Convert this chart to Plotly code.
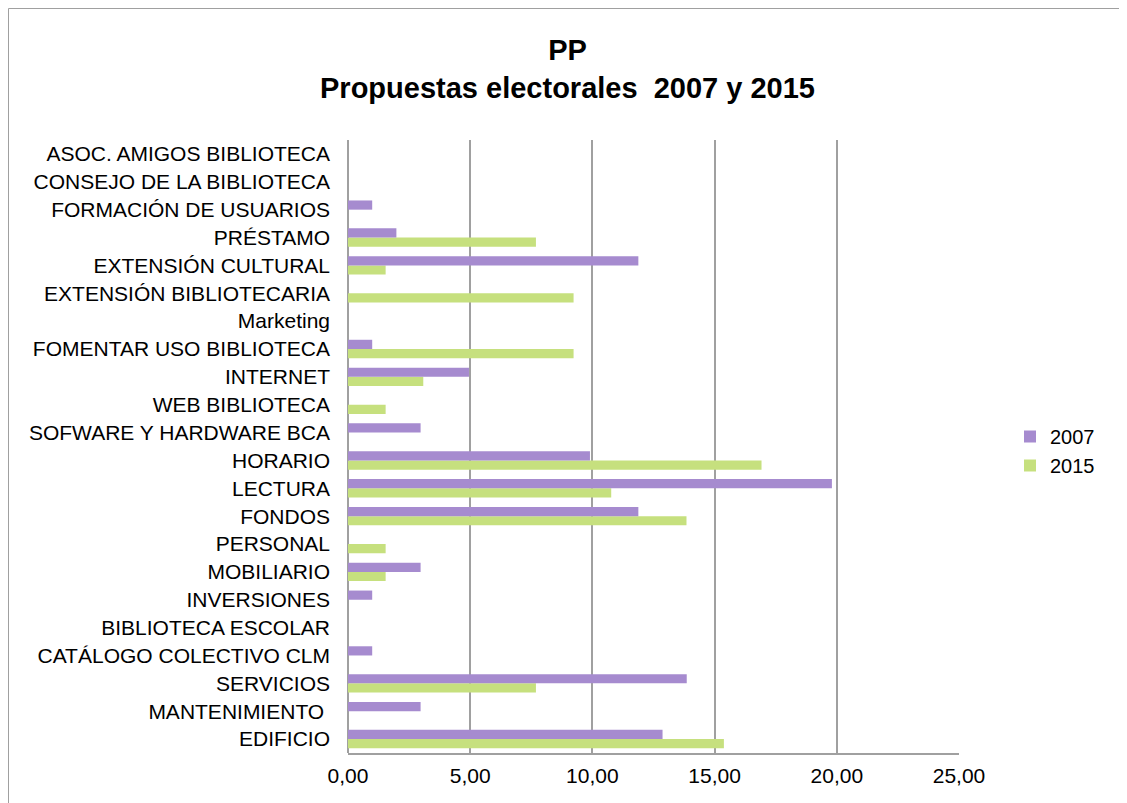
import plotly.graph_objects as go

categories = [
    "ASOC. AMIGOS BIBLIOTECA", "CONSEJO DE LA BIBLIOTECA", "FORMACIÓN DE USUARIOS",
    "PRÉSTAMO", "EXTENSIÓN CULTURAL", "EXTENSIÓN BIBLIOTECARIA", "Marketing",
    "FOMENTAR USO BIBLIOTECA", "INTERNET", "WEB BIBLIOTECA", "SOFWARE Y HARDWARE BCA",
    "HORARIO", "LECTURA", "FONDOS", "PERSONAL", "MOBILIARIO", "INVERSIONES",
    "BIBLIOTECA ESCOLAR", "CATÁLOGO COLECTIVO CLM", "SERVICIOS", "MANTENIMIENTO ",
    "EDIFICIO",
]
v2007 = [0, 0, 0.99, 1.98, 11.88, 0, 0, 0.99, 4.95, 0, 2.97, 9.90, 19.80, 11.88,
         0, 2.97, 0.99, 0, 0.99, 13.86, 2.97, 12.87]
v2015 = [0, 0, 0, 7.69, 1.54, 9.23, 0, 9.23, 3.08, 1.54, 0, 16.92, 10.77, 13.85,
         1.54, 1.54, 0, 0, 0, 7.69, 0, 15.38]
x_ticks = [0, 5, 10, 15, 20, 25]

# page body has an 8px margin; work in figure coordinates
OFF = 8
W, H = 1127 - OFF, 803 - OFF
L, R, T, B = 348 - OFF, 959 - OFF, 140 - OFF, 753 - OFF

def px_x(p):
    return (p - OFF - L) / (R - L)

def px_y(p):
    return (B - (p - OFF)) / (B - T)

fig = go.Figure()
fig.add_trace(go.Bar(y=categories, x=v2015, name="2015", orientation="h",
                     marker=dict(color="#C6E07E", line=dict(width=0))))
fig.add_trace(go.Bar(y=categories, x=v2007, name="2007", orientation="h",
                     marker=dict(color="#A68BCF", line=dict(width=0))))

font = "Liberation Sans, Arial, Helvetica, sans-serif"
fig.update_layout(
    width=W, height=H,
    margin=dict(l=L, r=W - R, t=T, b=H - B, pad=0),
    paper_bgcolor="white", plot_bgcolor="white",
    barmode="group", bargap=0.34, bargroupgap=0,
    separators=",.",
    font=dict(family=font, size=21, color="black"),
    title=dict(text="<b>PP<br>Propuestas electorales  2007 y 2015</b>",
               x=0.5, xref="container", xanchor="center",
               y=1 - 52 / H, yanchor="top",
               font=dict(family=font, size=29, color="black")),
    showlegend=True,
    legend=dict(x=px_x(1010), y=px_y(451), xanchor="left", yanchor="middle",
                traceorder="reversed", font=dict(size=20),
                bgcolor="rgba(0,0,0,0)", tracegroupgap=0),
    xaxis=dict(range=[0, 25], tickvals=x_ticks, tickformat=".2f",
               showgrid=True, gridcolor="#A0A0A0", gridwidth=2,
               zeroline=True, zerolinecolor="#A0A0A0", zerolinewidth=2,
               showline=True, linecolor="#A0A0A0", linewidth=2,
               ticks="", ticklabelstandoff=3, fixedrange=True),
    yaxis=dict(categoryorder="array", categoryarray=categories[::-1],
               type="category", showgrid=False, zeroline=False,
               showline=False, ticks="", ticklabelstandoff=17),
    shapes=[
        dict(type="line", xref="paper", yref="paper",
             x0=px_x(8.5), x1=px_x(1127), y0=px_y(8.5), y1=px_y(8.5),
             line=dict(color="#A0A0A0", width=1)),
        dict(type="line", xref="paper", yref="paper",
             x0=px_x(8.5), x1=px_x(8.5), y0=px_y(8.5), y1=px_y(803),
             line=dict(color="#A0A0A0", width=1)),
    ],
)

fig.write_html("out.html")
